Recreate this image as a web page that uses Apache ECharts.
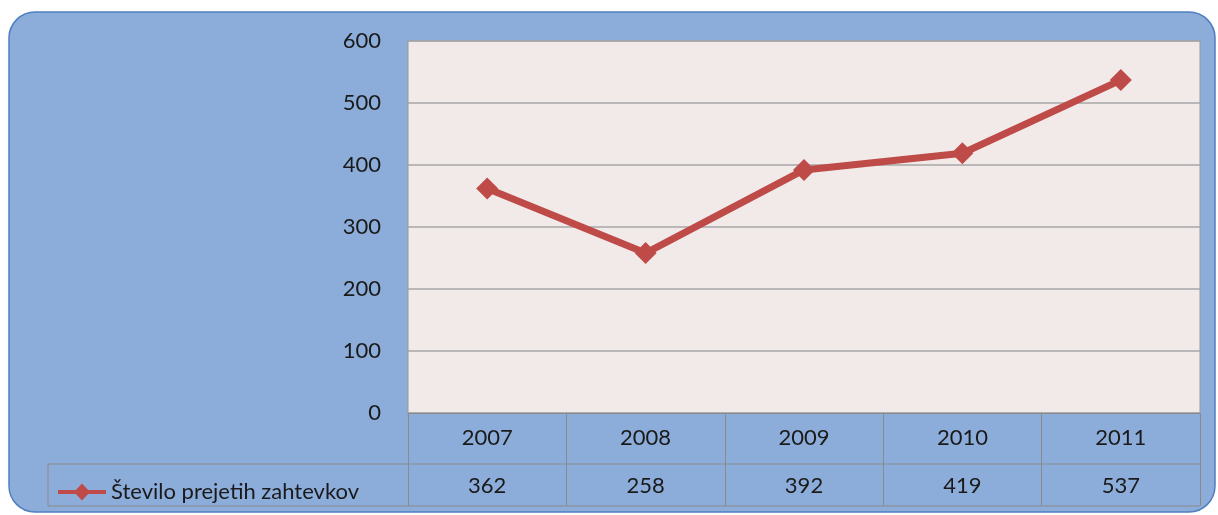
<!DOCTYPE html>
<html><head><meta charset="utf-8">
<script src="https://cdn.jsdelivr.net/npm/echarts@6/dist/echarts.min.js"></script>
<style>html,body{margin:0;padding:0;background:#fff}#c{width:1218px;height:515px}</style>
</head><body><div id="c"></div>
<script>
const categories = ['2007', '2008', '2009', '2010', '2011'];
const seriesName = 'Število prejetih zahtevkov';
const values = [362, 258, 392, 419, 537];
const yTicks = [0, 100, 200, 300, 400, 500, 600];

const FONT = 'Lato, "Open Sans", sans-serif';
const FS = 22;
const G = {left: 408, top: 41, width: 792, height: 372};
const rowBottom = 506, midRow = 464, tableLeft = 48;
const lineCol = '#8a8a8a';
const legendIcon = 'path://M0,7.5 L48,7.5 L48,11.5 L0,11.5 Z M24,1 L32,9.5 L24,18 L16,9.5 Z';

const chart = echarts.init(document.getElementById('c'), null, {renderer: 'canvas'});
chart.setOption({
  animation: false,
  backgroundColor: '#ffffff',
  textStyle: {fontFamily: FONT},
  graphic: [
    {type: 'rect', z: -10, shape: {x: 9, y: 12, width: 1206, height: 500, r: 26},
     style: {fill: '#8CADDA', stroke: '#4F7FC0', lineWidth: 1.5}},
    {type: 'line', z: 5, shape: {x1: tableLeft, y1: midRow, x2: G.left + G.width, y2: midRow}, style: {stroke: lineCol, lineWidth: 1}},
    {type: 'line', z: 5, shape: {x1: tableLeft, y1: rowBottom, x2: G.left + G.width, y2: rowBottom}, style: {stroke: lineCol, lineWidth: 1}},
    {type: 'line', z: 5, shape: {x1: tableLeft, y1: midRow, x2: tableLeft, y2: rowBottom}, style: {stroke: lineCol, lineWidth: 1}}
  ],
  legend: {
    left: 53, top: 476, itemWidth: 48, itemHeight: 18, itemGap: 4,
    textStyle: {fontSize: FS, color: '#1a1a1a', fontFamily: FONT},
    data: [{name: seriesName, icon: legendIcon}]
  },
  grid: {left: G.left, top: G.top, width: G.width, height: G.height, show: true,
         backgroundColor: '#F2E9E9', borderColor: '#9a9a9a', borderWidth: 1},
  xAxis: [
    {type: 'category', data: categories, boundaryGap: true, position: 'bottom',
     axisLine: {show: true, lineStyle: {color: lineCol, width: 1}},
     axisTick: {show: true, length: rowBottom - (G.top + G.height), lineStyle: {color: lineCol}},
     axisLabel: {fontSize: FS, color: '#1a1a1a', margin: 14, fontFamily: FONT}},
    {type: 'category', data: categories, boundaryGap: true, position: 'bottom', offset: midRow - (G.top + G.height),
     axisLine: {show: false}, axisTick: {show: false},
     axisLabel: {fontSize: FS, color: '#1a1a1a', margin: 11, fontFamily: FONT,
                 formatter: (v, i) => String(values[i])}}
  ],
  yAxis: {type: 'value', min: yTicks[0], max: yTicks[yTicks.length - 1], interval: 100,
    axisLine: {show: false}, axisTick: {show: false},
    axisLabel: {fontSize: FS, color: '#1a1a1a', margin: 27, fontFamily: FONT},
    splitLine: {show: true, lineStyle: {color: '#a6a6a6', width: 1.5}}},
  series: [{
    name: seriesName, type: 'line', data: values, xAxisIndex: 0,
    symbol: 'diamond', symbolSize: 22,
    lineStyle: {color: '#BE4B48', width: 7},
    itemStyle: {color: '#BE4B48'}
  }]
});
</script></body></html>
